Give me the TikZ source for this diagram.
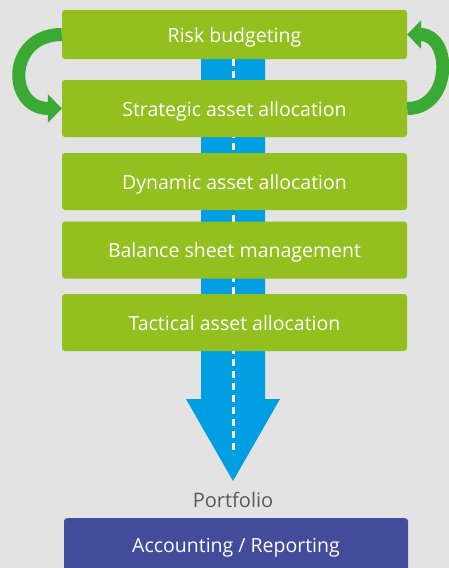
\documentclass[tikz,border=0pt]{standalone}
\usepackage{fontspec}
\setmainfont{Open Sans}
\usepackage{xcolor}
\definecolor{bgcolor}{HTML}{E3E3E3}
\definecolor{stagecolor}{HTML}{93C01F}
\definecolor{loopcolor}{HTML}{3AAA35}
\definecolor{flowcolor}{HTML}{009FE3}
\definecolor{reportcolor}{HTML}{434C9A}
\definecolor{labelcolor}{HTML}{595959}
\usepackage{tikz}
\usetikzlibrary{arrows.meta, positioning, calc}

\tikzset{
  stagebox/.style={fill=stagecolor, rounded corners=3pt, minimum width=345pt,
    minimum height=57pt, inner sep=0pt, text height=15pt, text depth=0pt,
    text=white, font=\fontsize{19.5}{22}\selectfont},
  loop/.style={draw=loopcolor, line width=13pt, -{Triangle[length=14pt, width=28pt]}},
}

\begin{document}
\begin{tikzpicture}[x=1pt, y=-1pt]
  \fill[bgcolor] (0,0) rectangle (449,568);
  \useasboundingbox (0,0) rectangle (449,568);

  \coordinate (flowtop) at (233,59);
  \coordinate (flowtip) at (233,481);
  \fill[flowcolor] ($(flowtop)+(-32,0)$) -- ($(flowtop)+(32,0)$) -- (265,399) -- (280,399)
    -- (flowtip) -- (186,399) -- (201,399) -- cycle;
  \draw[white, line width=3pt, dash pattern=on 7pt off 5pt] (flowtop) -- (233,455);

  \node[stagebox, minimum height=49pt] (risk) at (234.5,34.5) {Risk budgeting};
  \node[stagebox] (strat) at (234.5,108.5) {Strategic asset allocation};
  \node[stagebox] (dyn) at (234.5,181.5) {Dynamic asset allocation};
  \node[stagebox] (bal) at (234.5,250) {Balance sheet management};
  \node[stagebox] (tact) at (234.5,322.5) {Tactical asset allocation};

  \draw[loop] (risk.west) .. controls +(-55,0) and +(-55,0) .. (strat.west);
  \draw[loop] (strat.east) .. controls +(45,0) and +(45,0) .. (risk.east);

  \node[text=labelcolor, font=\fontsize{20}{24}\selectfont] (port) at (233,500) {Portfolio};
  \node[fill=reportcolor, rounded corners=3pt, minimum width=344pt, minimum height=60pt,
    inner sep=0pt, anchor=north] (report) at (236,518) {};
  \node[text=white, font=\fontsize{19.5}{22}\selectfont] (reptext) at (236,548) {Accounting / Reporting};
\end{tikzpicture}
\end{document}
